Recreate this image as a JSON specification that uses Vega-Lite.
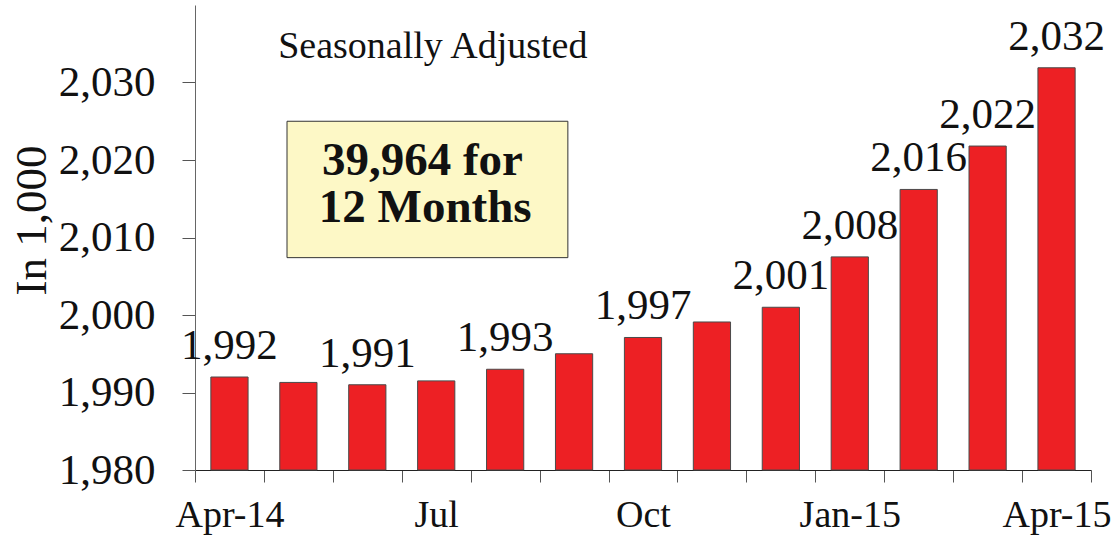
{
  "$schema": "https://vega.github.io/schema/vega-lite/v6.json",
  "width": 896,
  "height": 465,
  "autosize": {"type": "none"},
  "padding": {"left": 195, "top": 5, "right": 26, "bottom": 68},
  "background": "white",
  "config": {
    "view": {"stroke": null},
    "axis": {"labelFont": "Liberation Serif", "titleFont": "Liberation Serif", "labelColor": "#111", "titleColor": "#111", "grid": false}
  },
  "layer": [
    {
      "data": {
        "values": [
          {"month": "Apr-14", "value": 1992.0, "label": "1,992"},
          {"month": "May", "value": 1991.3, "label": ""},
          {"month": "Jun", "value": 1991.0, "label": "1,991"},
          {"month": "Jul", "value": 1991.5, "label": ""},
          {"month": "Aug", "value": 1993.0, "label": "1,993"},
          {"month": "Sep", "value": 1995.0, "label": ""},
          {"month": "Oct", "value": 1997.1, "label": "1,997"},
          {"month": "Nov", "value": 1999.1, "label": ""},
          {"month": "Dec", "value": 2001.0, "label": "2,001"},
          {"month": "Jan-15", "value": 2007.5, "label": "2,008"},
          {"month": "Feb", "value": 2016.2, "label": "2,016"},
          {"month": "Mar", "value": 2021.8, "label": "2,022"},
          {"month": "Apr-15", "value": 2031.9, "label": "2,032"}
        ]
      },
      "encoding": {
        "x": {
          "field": "month", "type": "nominal", "sort": null,
          "scale": {"paddingInner": 0, "paddingOuter": 0},
          "axis": {
            "title": null, "labelAngle": 0, "tickBand": "extent", "tickSize": 12,
            "labelFontSize": 38, "labelPadding": 14, "domainColor": "#222", "tickColor": "#555",
            "labelExpr": "indexof(['Apr-14','Jul','Oct','Jan-15','Apr-15'], datum.value) >= 0 ? datum.value : ''"
          }
        },
        "y": {
          "field": "value", "type": "quantitative",
          "scale": {"domain": [1980, 2040], "zero": false, "nice": false},
          "axis": {
            "values": [1980, 1990, 2000, 2010, 2020, 2030], "format": ",",
            "labelFontSize": 43, "tickSize": 13, "tickColor": "#555", "domainColor": "#666",
            "labelPadding": 27, "title": "In 1,000", "titleFontSize": 45, "titleFontWeight": "normal",
            "titleX": -141, "titleY": 215, "titleAlign": "center", "titleAngle": -90
          }
        }
      },
      "layer": [
        {
          "mark": {"type": "bar", "width": {"band": 0.54}, "fill": "#ED2024", "stroke": "#4a4a4a", "strokeWidth": 1},
          "encoding": {"y2": {"datum": 1980}}
        },
        {
          "transform": [{"filter": "datum.label != ''"}],
          "mark": {"type": "text", "font": "Liberation Serif", "fontSize": 43, "baseline": "alphabetic", "align": "center", "dy": -18, "color": "#111"},
          "encoding": {"text": {"field": "label"}}
        }
      ]
    },
    {
      "layer": [
        {
          "data": {"values": [{"x": 1.335, "x2": 5.41, "value": 2025.0, "value2": 2007.4}]},
          "mark": {"type": "rect", "fill": "#FDF8C6", "stroke": "#333", "strokeWidth": 1},
          "encoding": {
            "x": {"field": "x", "type": "quantitative", "scale": {"domain": [0, 13], "nice": false, "zero": false}, "axis": null},
            "x2": {"field": "x2"},
            "y": {"field": "value", "type": "quantitative", "axis": {"title": "In 1,000"}},
            "y2": {"field": "value2"}
          }
        },
        {
          "data": {"values": [{"x": 3.30, "value": 2018.1, "text": "39,964 for"}, {"x": 3.34, "value": 2012.0, "text": "12 Months"}]},
          "mark": {"type": "text", "font": "Liberation Serif", "fontSize": 47, "fontWeight": "bold", "baseline": "alphabetic", "align": "center", "color": "#111"},
          "encoding": {
            "x": {"field": "x", "type": "quantitative", "scale": {"domain": [0, 13], "nice": false, "zero": false}, "axis": null},
            "y": {"field": "value", "type": "quantitative", "axis": {"title": "In 1,000"}},
            "text": {"field": "text"}
          }
        },
        {
          "data": {"values": [{"x": 3.45, "value": 2033.1, "text": "Seasonally Adjusted"}]},
          "mark": {"type": "text", "font": "Liberation Serif", "fontSize": 38, "baseline": "alphabetic", "align": "center", "color": "#111"},
          "encoding": {
            "x": {"field": "x", "type": "quantitative", "scale": {"domain": [0, 13], "nice": false, "zero": false}, "axis": null},
            "y": {"field": "value", "type": "quantitative", "axis": {"title": "In 1,000"}},
            "text": {"field": "text"}
          }
        }
      ]
    }
  ],
  "resolve": {"scale": {"x": "independent"}}
}
